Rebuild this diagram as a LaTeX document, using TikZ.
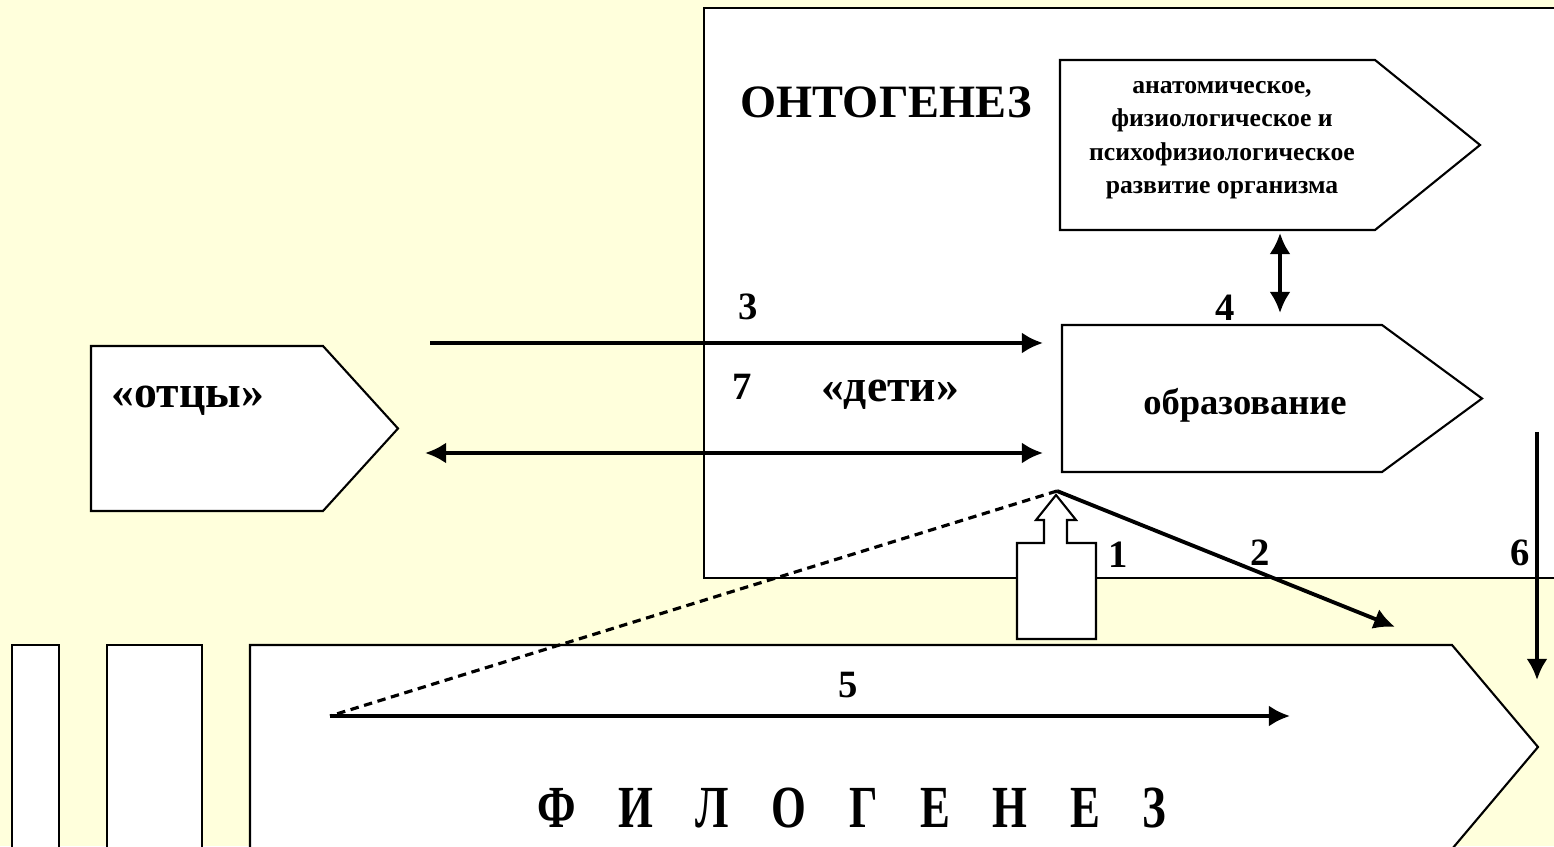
\documentclass[tikz,border=0pt]{standalone}
\usepackage{fontspec}
\setmainfont{Liberation Serif}
\usetikzlibrary{arrows.meta,calc,positioning}
\definecolor{bgyel}{RGB}{255,255,220}
\tikzset{
	box/.style={draw=black,fill=white,line width=0.6pt},
	arr/.style={line width=1.1pt,-{Latex[length=6pt,width=6pt]}},
	darr/.style={line width=1.1pt,{Latex[length=6pt,width=6pt]}-{Latex[length=6pt,width=6pt]}},
	num/.style={inner sep=0pt,font=\fontsize{11}{13}\selectfont\bfseries},
	lbl/.style={inner sep=0pt,font=\fontsize{13}{15}\selectfont\bfseries},
}

\begin{document}
\begin{tikzpicture}
		\fill[bgyel] (0,0) rectangle (15.54,8.46);
		\useasboundingbox (0,0) rectangle (15.54,8.46);
		% ontogenesis field
		\fill[white] (7.04,2.68) rectangle (15.70,8.38);
		\draw[line width=0.6pt] (15.70,8.38) -- (7.04,8.38) -- (7.04,2.68) -- (15.70,2.68);
		% phylogenesis strip
		\draw[box] (0.12,-0.10) rectangle (0.59,2.01);
		\draw[box] (1.07,-0.10) rectangle (2.02,2.01);
		\draw[box] (2.50,-0.03) -- (2.50,2.01) -- (14.52,2.01) -- (15.38,0.99) -- (14.52,-0.03) -- cycle;
		% boxes
		\draw[box] (10.60,7.86) -- (13.75,7.86) -- (14.80,7.01) -- (13.75,6.16) -- (10.60,6.16) -- cycle;
		\draw[box] (10.62,5.21) -- (13.82,5.21) -- (14.82,4.475) -- (13.82,3.74) -- (10.62,3.74) -- cycle;
		\draw[box] (0.91,5.00) -- (3.23,5.00) -- (3.98,4.175) -- (3.23,3.35) -- (0.91,3.35) -- cycle;
		% hollow arrow
		\draw[box] (10.17,2.07) -- (10.96,2.07) -- (10.96,3.03) -- (10.67,3.03) -- (10.67,3.26)
			-- (10.76,3.26) -- (10.56,3.51) -- (10.36,3.26) -- (10.44,3.26) -- (10.44,3.03)
			-- (10.17,3.03) -- cycle;
		% texts
		\node[inner sep=0pt,font=\fontsize{13.2}{15}\selectfont\bfseries] (onto) at (8.86,7.44) {ОНТОГЕНЕЗ};
		\node[inner sep=0pt,align=center,font=\fontsize{7.3}{9.5}\selectfont\bfseries] (anat) at (12.22,7.06)
			{анатомическое,\\физиологическое и\\психофизиологическое\\развитие организма};
		\node[inner sep=0pt,font=\fontsize{10.4}{12}\selectfont\bfseries] (obr) at (12.45,4.41) {образование};
		\node[lbl] (otcy) at (1.88,4.45) {«отцы»};
		\node[lbl] (deti) at (8.90,4.51) {«дети»};
		\node[inner sep=0pt,font=\fontsize{17}{19}\selectfont\bfseries] (filo) at (8.52,0.38)
			{\scalebox{0.75}[1]{Ф\hspace{0.95em}И\hspace{0.95em}Л\hspace{0.95em}О\hspace{0.95em}Г\hspace{0.95em}Е\hspace{0.95em}Н\hspace{0.95em}Е\hspace{0.95em}З}};
		\node[num] (n1) at (11.18,2.91) {1};
		\node[num] (n2) at (12.60,2.93) {2};
		\node[num] (n3) at (7.48,5.39) {3};
		\node[num] (n4) at (12.25,5.38) {4};
		\node[num] (n5) at (8.48,1.61) {5};
		\node[num] (n6) at (15.20,2.93) {6};
		\node[num] (n7) at (7.42,4.59) {7};
		% connector ends
		\coordinate (s3) at (4.30,5.03);
		\coordinate (e3) at (10.43,5.03);
		\coordinate (s7) at (4.25,3.93);
		\coordinate (e7) at (10.43,3.93);
		\coordinate (s4) at (12.80,6.13);
		\coordinate (e4) at (12.80,5.33);
		\coordinate (apex) at (10.57,3.55);
		\coordinate (e2) at (13.95,2.19);
		\coordinate (s5) at (3.30,1.30);
		\coordinate (e5) at (12.90,1.30);
		\coordinate (s6) at (15.37,4.14);
		\coordinate (e6) at (15.37,1.66);
		% connectors
		\draw[arr] (s3) to (e3);
		\draw[darr] (s7) to (e7);
		\draw[darr] (s4) to (e4);
		\draw[line width=0.9pt,dash pattern=on 2.4pt off 1.6pt] (apex) to (s5);
		\draw[arr] (apex) to (e2);
		\draw[arr] (s5) to (e5);
		\draw[arr] (s6) to (e6);
	\end{tikzpicture}
\end{document}
